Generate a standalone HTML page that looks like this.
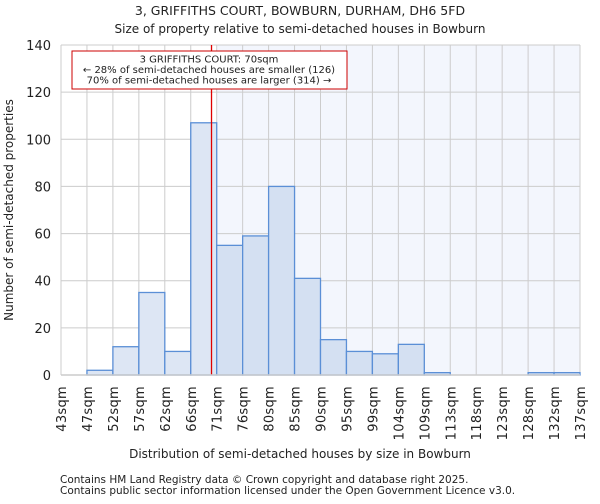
<!DOCTYPE html>
<html><head><meta charset="utf-8"><style>
body{margin:0;background:#fff;font-family:"DejaVu Sans","Liberation Sans",sans-serif;}
svg text{font-family:"DejaVu Sans","Liberation Sans",sans-serif;fill:#222;}
</style></head><body>
<svg width="600" height="500">
<text x="300" y="15" text-anchor="middle" font-size="12.5">3, GRIFFITHS COURT, BOWBURN, DURHAM, DH6 5FD</text>
<text x="300" y="33" text-anchor="middle" font-size="12">Size of property relative to semi-detached houses in Bowburn</text>
<g id="plot"></g>
<text x="300" y="458" text-anchor="middle" font-size="12">Distribution of semi-detached houses by size in Bowburn</text>
<text transform="translate(13,210) rotate(-90)" text-anchor="middle" font-size="12">Number of semi-detached properties</text>
<text x="60" y="483" font-size="10.5">Contains HM Land Registry data © Crown copyright and database right 2025.</text>
<text x="60" y="494" font-size="10.5">Contains public sector information licensed under the Open Government Licence v3.0.</text>
</svg>
<script>
const categories=["43sqm","47sqm","52sqm","57sqm","62sqm","66sqm","71sqm","76sqm","80sqm","85sqm","90sqm","95sqm","99sqm","104sqm","109sqm","113sqm","118sqm","123sqm","128sqm","132sqm","137sqm"];
const counts=[0,2,12,35,10,107,55,59,80,41,15,10,9,13,1,0,0,0,1,1];
const yTicks=[0,20,40,60,80,100,120,140];
const markerPos=5.8;
const highlightStart=6;
const ns="http://www.w3.org/2000/svg";
const g=document.getElementById("plot");
const L=61,R=580,T=45,B=375,yMax=140;
const nb=counts.length;
const xs=i=>L+(R-L)*i/nb;
const ys=v=>B-(B-T)*v/yMax;
function mk(t,a){const e=document.createElementNS(ns,t);for(const k in a)e.setAttribute(k,a[k]);g.appendChild(e);return e;}
let e=mk("rect",{x:xs(highlightStart),y:T,width:R-xs(highlightStart),height:B-T,fill:"#f3f6fd"});


for(let i=0;i<=nb;i++){e=mk("line",{x1:xs(i),x2:xs(i),y1:T,y2:B,stroke:"#ccc","stroke-width":1});

}
yTicks.forEach(v=>{e=mk("line",{x1:L,x2:R,y1:ys(v),y2:ys(v),stroke:"#ccc","stroke-width":1});


const t=mk("text",{x:L-10,y:ys(v)+5,"text-anchor":"end","font-size":"13"});t.textContent=v;

});
counts.forEach((c,i)=>{if(c<=0)return;
const r=mk("rect",{x:xs(i),y:ys(c),width:xs(i+1)-xs(i),height:B-ys(c),fill:i<highlightStart?"#dde6f4":"#d4e0f2",stroke:"#5b8fd6","stroke-width":1.3});

});
categories.forEach((c,i)=>{const x=xs(i);
const t=mk("text",{transform:`translate(${x+5},${386}) rotate(-90)`,"text-anchor":"end","font-size":"13","letter-spacing":"0.3"});t.textContent=c;

});
e=mk("line",{x1:xs(markerPos),x2:xs(markerPos),y1:T,y2:B,stroke:"#e00000","stroke-width":1.3});


e=mk("rect",{x:72,y:51,width:275,height:38,fill:"#fff",stroke:"#c00","stroke-width":1});


["3 GRIFFITHS COURT: 70sqm","← 28% of semi-detached houses are smaller (126)","70% of semi-detached houses are larger (314) →"].forEach((s,k)=>{
const t=mk("text",{x:209,y:62.5+k*10.5,"text-anchor":"middle","font-size":"10"});t.textContent=s;

});
e=mk("line",{x1:L,x2:R,y1:B,y2:B,stroke:"#ccc","stroke-width":1.5});


</script>
</body></html>
